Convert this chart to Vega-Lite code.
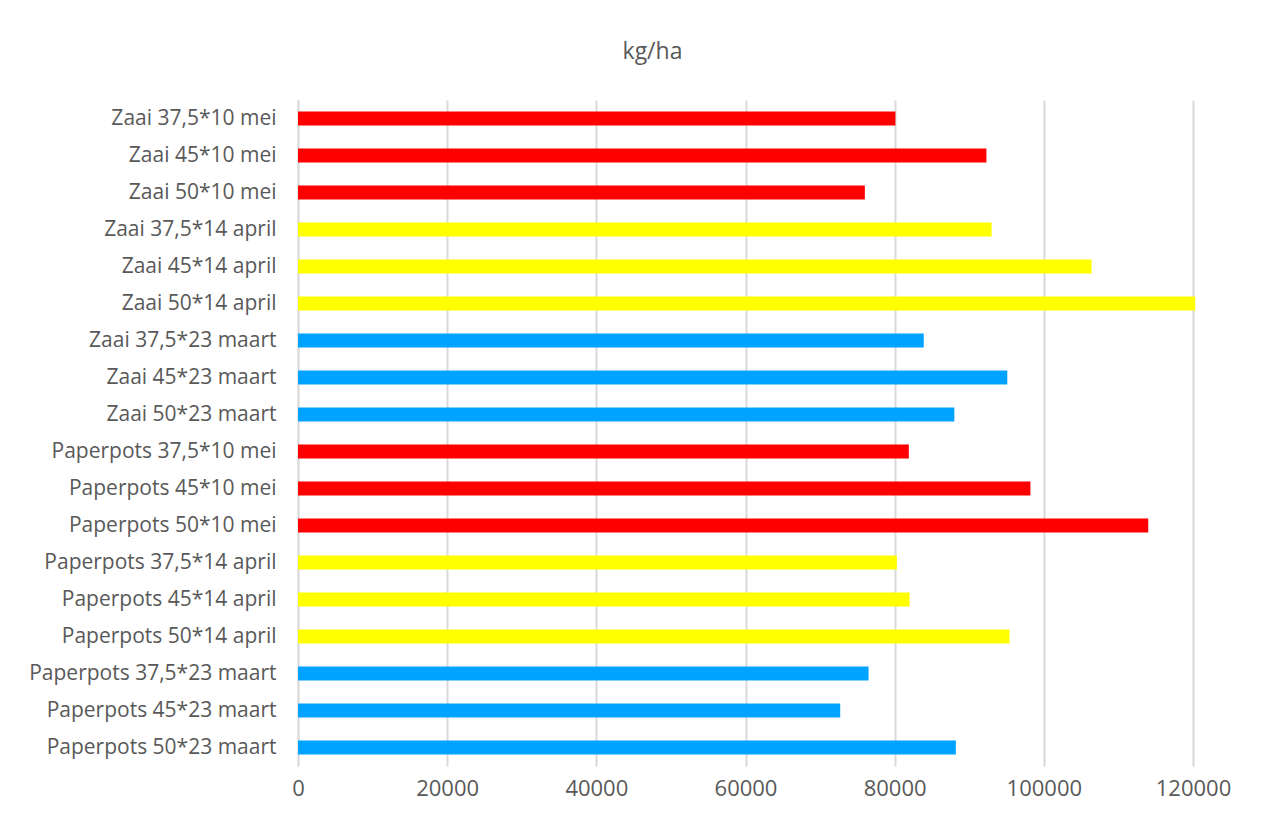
{
  "$schema": "https://vega.github.io/schema/vega-lite/v6.json",
  "width": 895,
  "height": 666,
  "autosize": {"type": "none"},
  "padding": {"left": 298, "top": 100, "right": 89, "bottom": 52},
  "background": "white",
  "title": {
    "text": "kg/ha",
    "anchor": "middle",
    "dx": -93,
    "offset": 36,
    "font": "Open Sans",
    "fontSize": 23,
    "fontWeight": "normal",
    "color": "#595959"
  },
  "data": {
    "values": [
      {"label": "Zaai 37,5*10 mei", "datum": "10 mei", "kgha": 80100},
      {"label": "Zaai 45*10 mei", "datum": "10 mei", "kgha": 92300},
      {"label": "Zaai 50*10 mei", "datum": "10 mei", "kgha": 76000},
      {"label": "Zaai 37,5*14 april", "datum": "14 april", "kgha": 93000},
      {"label": "Zaai 45*14 april", "datum": "14 april", "kgha": 106400},
      {"label": "Zaai 50*14 april", "datum": "14 april", "kgha": 120300},
      {"label": "Zaai 37,5*23 maart", "datum": "23 maart", "kgha": 83900},
      {"label": "Zaai 45*23 maart", "datum": "23 maart", "kgha": 95100},
      {"label": "Zaai 50*23 maart", "datum": "23 maart", "kgha": 88000},
      {"label": "Paperpots 37,5*10 mei", "datum": "10 mei", "kgha": 81900},
      {"label": "Paperpots 45*10 mei", "datum": "10 mei", "kgha": 98200},
      {"label": "Paperpots 50*10 mei", "datum": "10 mei", "kgha": 114000},
      {"label": "Paperpots 37,5*14 april", "datum": "14 april", "kgha": 80300},
      {"label": "Paperpots 45*14 april", "datum": "14 april", "kgha": 82000},
      {"label": "Paperpots 50*14 april", "datum": "14 april", "kgha": 95400},
      {"label": "Paperpots 37,5*23 maart", "datum": "23 maart", "kgha": 76500},
      {"label": "Paperpots 45*23 maart", "datum": "23 maart", "kgha": 72700},
      {"label": "Paperpots 50*23 maart", "datum": "23 maart", "kgha": 88200}
    ]
  },
  "mark": {"type": "bar", "clip": false},
  "encoding": {
    "y": {
      "field": "label",
      "type": "nominal",
      "sort": null,
      "title": null,
      "scale": {"paddingInner": 0.62, "paddingOuter": 0.31},
      "axis": {
        "labelFont": "Open Sans",
        "labelFontSize": 21,
        "labelColor": "#595959",
        "labelPadding": 22,
        "ticks": false,
        "domain": true,
        "domainColor": "#D9D9D9",
        "domainWidth": 1.5,
        "grid": false,
        "labelLimit": 300
      }
    },
    "x": {
      "field": "kgha",
      "type": "quantitative",
      "title": null,
      "scale": {"domain": [0, 120000], "nice": false},
      "axis": {
        "values": [0, 20000, 40000, 60000, 80000, 100000, 120000],
        "format": "d",
        "labelFont": "Open Sans",
        "labelFontSize": 22,
        "labelColor": "#595959",
        "labelPadding": 12,
        "ticks": false,
        "domain": false,
        "grid": true,
        "gridColor": "#D9D9D9",
        "gridWidth": 2,
        "labelFlush": false
      }
    },
    "color": {
      "field": "datum",
      "type": "nominal",
      "scale": {"domain": ["10 mei", "14 april", "23 maart"], "range": ["#FF0000", "#FFFF00", "#00A3FF"]},
      "legend": null
    }
  },
  "config": {"view": {"stroke": null}}
}
